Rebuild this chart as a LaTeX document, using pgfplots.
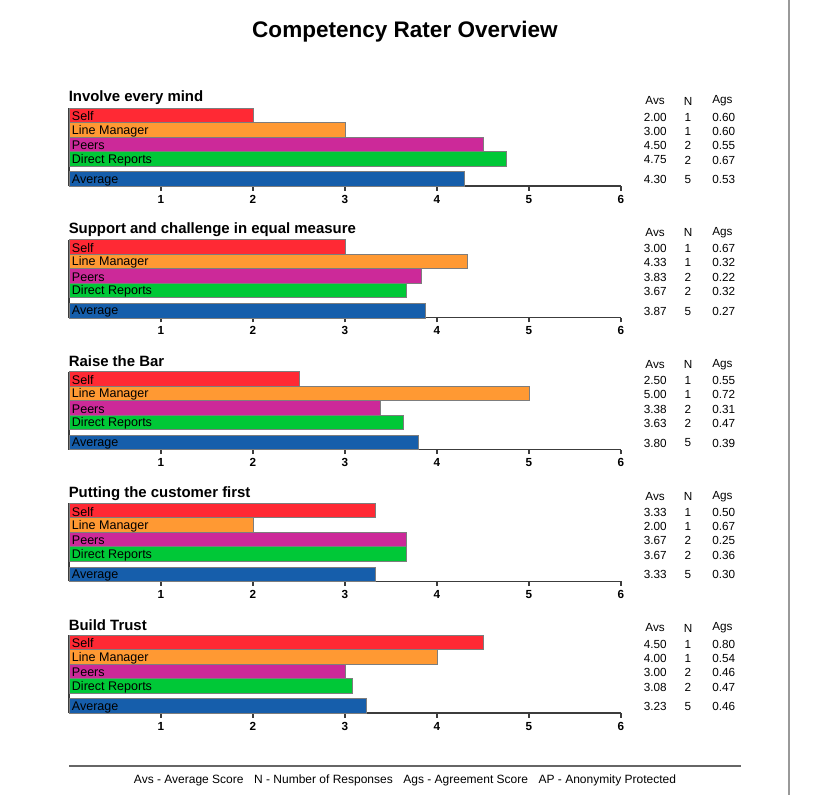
\documentclass[border=0pt]{standalone}
\usepackage{pgfplots}
\pgfplotsset{compat=1.18}
\usepackage{fontspec}
\setmainfont{Liberation Sans}

\definecolor{cself}{RGB}{255,41,52}
\definecolor{cline}{RGB}{255,153,51}
\definecolor{cpeer}{RGB}{204,41,153}
\definecolor{cdirect}{RGB}{0,200,55}
\definecolor{cavg}{RGB}{22,94,171}
\definecolor{barline}{RGB}{125,125,125}
\definecolor{axisgray}{RGB}{60,60,60}

\pgfplotsset{
  rater/.style={
    xbar,
    width=414pt, height=58.5pt, scale only axis,
    xmin=0, xmax=6, ymin=0, ymax=78,
    axis x line*=bottom, axis y line*=left,
    axis line style={draw=axisgray, line width=1pt},
    xtick={1,...,6}, ytick=\empty,
    tick align=outside, major tick length=3.5pt,
    tick style={draw=axisgray, line width=0.8pt},
    /pgf/number format/assume math mode=true,
    xticklabel style={font=\fontsize{8.8}{10}\selectfont\bfseries, inner sep=1pt, yshift=-2pt},
    every axis plot/.append style={bar shift=0pt, bar width=14.5, draw=barline, line width=0.6pt},
    anchor=south west, clip=false,
  },
}
\tikzset{lbl/.style={anchor=west, inner sep=0pt, xshift=2pt, yshift=-0.8pt, font=\fontsize{9.4}{11}\selectfont}}

% category names written inside the bars
\newcommand{\raterlabels}{%
  \node[lbl] at (axis cs:0,70.75) {Self};
  \node[lbl] at (axis cs:0,56.25) {Line Manager};
  \node[lbl] at (axis cs:0,41.75) {Peers};
  \node[lbl] at (axis cs:0,27.25) {Direct Reports};
  \node[lbl] at (axis cs:0,7) {Average};
}
% one row of the table on the right: y, Avs, N, Ags
\newcommand{\statrow}[4]{%
  \node[anchor=east, inner sep=0pt] at (667,#1) {#2};
  \node[inner sep=0pt] at (688,#1) {#3};
  \node[anchor=west, inner sep=0pt] at (712,#1) {#4};
}
\newcommand{\heading}[2]{%
  \node[anchor=west, inner sep=0pt, font=\fontsize{11.2}{13}\selectfont\bfseries] at (68.5,#1-88) {#2};
  \node[anchor=east, inner sep=0pt] at (665,#1-85) {Avs};
  \node[inner sep=0pt] at (688,#1-85) {N};
  \node[anchor=west, inner sep=0pt] at (712,#1-85) {Ags};
}

\begin{document}
\begin{tikzpicture}[x=0.75pt, y=-0.75pt, font=\fontsize{8.8}{10}\selectfont]
\useasboundingbox (0,0) rectangle (813,795);

\node[font=\fontsize{16.9}{20}\selectfont\bfseries] at (405,32) {Competency Rater Overview};

% ---- panel 1
\begin{axis}[rater, at={(51.75pt,-139.5pt)}]
  \addplot[fill=cself] coordinates {(2.00,70.75)};
  \addplot[fill=cline] coordinates {(3.00,56.25)};
  \addplot[fill=cpeer] coordinates {(4.50,41.75)};
  \addplot[fill=cdirect] coordinates {(4.75,27.25)};
  \addplot[fill=cavg] coordinates {(4.30,7)};
  \raterlabels
\end{axis}
\heading{186}{Involve every mind}
\statrow{186-69}{2.00}{1}{0.60}
\statrow{186-55}{3.00}{1}{0.60}
\statrow{186-40.5}{4.50}{2}{0.55}
\statrow{186-26}{4.75}{2}{0.67}
\statrow{186-6.5}{4.30}{5}{0.53}

% ---- panel 2
\begin{axis}[rater, at={(51.75pt,-238.3125pt)}]
  \addplot[fill=cself] coordinates {(3.00,70.75)};
  \addplot[fill=cline] coordinates {(4.33,56.25)};
  \addplot[fill=cpeer] coordinates {(3.83,41.75)};
  \addplot[fill=cdirect] coordinates {(3.67,27.25)};
  \addplot[fill=cavg] coordinates {(3.87,7)};
  \raterlabels
\end{axis}
\heading{317.75}{Support and challenge in equal measure}
\statrow{317.75-69}{3.00}{1}{0.67}
\statrow{317.75-55}{4.33}{1}{0.32}
\statrow{317.75-40.5}{3.83}{2}{0.22}
\statrow{317.75-26}{3.67}{2}{0.32}
\statrow{317.75-6.5}{3.87}{5}{0.27}

% ---- panel 3
\begin{axis}[rater, at={(51.75pt,-337.125pt)}]
  \addplot[fill=cself] coordinates {(2.50,70.75)};
  \addplot[fill=cline] coordinates {(5.00,56.25)};
  \addplot[fill=cpeer] coordinates {(3.38,41.75)};
  \addplot[fill=cdirect] coordinates {(3.63,27.25)};
  \addplot[fill=cavg] coordinates {(3.80,7)};
  \raterlabels
\end{axis}
\heading{449.5}{Raise the Bar}
\statrow{449.5-69}{2.50}{1}{0.55}
\statrow{449.5-55}{5.00}{1}{0.72}
\statrow{449.5-40.5}{3.38}{2}{0.31}
\statrow{449.5-26}{3.63}{2}{0.47}
\statrow{449.5-6.5}{3.80}{5}{0.39}

% ---- panel 4
\begin{axis}[rater, at={(51.75pt,-435.9375pt)}]
  \addplot[fill=cself] coordinates {(3.33,70.75)};
  \addplot[fill=cline] coordinates {(2.00,56.25)};
  \addplot[fill=cpeer] coordinates {(3.67,41.75)};
  \addplot[fill=cdirect] coordinates {(3.67,27.25)};
  \addplot[fill=cavg] coordinates {(3.33,7)};
  \raterlabels
\end{axis}
\heading{581.25}{Putting the customer first}
\statrow{581.25-69}{3.33}{1}{0.50}
\statrow{581.25-55}{2.00}{1}{0.67}
\statrow{581.25-40.5}{3.67}{2}{0.25}
\statrow{581.25-26}{3.67}{2}{0.36}
\statrow{581.25-6.5}{3.33}{5}{0.30}

% ---- panel 5
\begin{axis}[rater, at={(51.75pt,-534.75pt)}]
  \addplot[fill=cself] coordinates {(4.50,70.75)};
  \addplot[fill=cline] coordinates {(4.00,56.25)};
  \addplot[fill=cpeer] coordinates {(3.00,41.75)};
  \addplot[fill=cdirect] coordinates {(3.08,27.25)};
  \addplot[fill=cavg] coordinates {(3.23,7)};
  \raterlabels
\end{axis}
\heading{713}{Build Trust}
\statrow{713-69}{4.50}{1}{0.80}
\statrow{713-55}{4.00}{1}{0.54}
\statrow{713-40.5}{3.00}{2}{0.46}
\statrow{713-26}{3.08}{2}{0.47}
\statrow{713-6.5}{3.23}{5}{0.46}

% footer
\draw[draw=black!60, line width=1.5pt] (69,766) -- (741,766);
\node[font=\fontsize{9}{10}\selectfont] at (405,780) {Avs - Average Score\hspace{0.6em} N - Number of Responses\hspace{0.6em} Ags - Agreement Score\hspace{0.6em} AP - Anonymity Protected};
\draw[draw=black!40, line width=1.5pt] (789,0) -- (789,795);
\end{tikzpicture}
\end{document}
